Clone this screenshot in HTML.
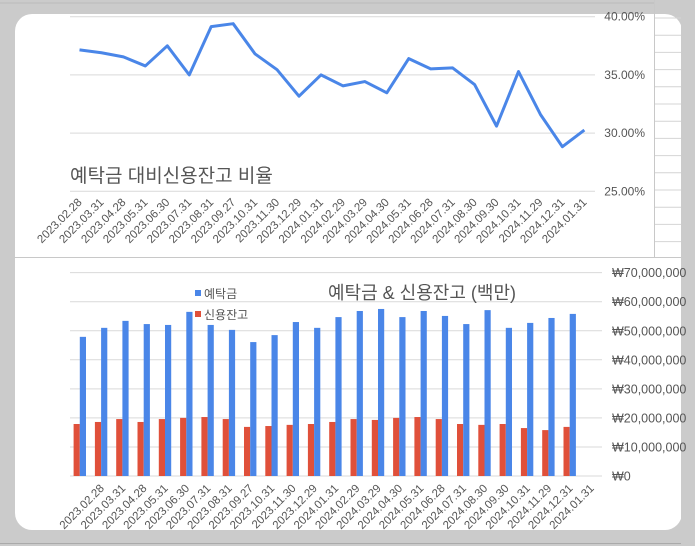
<!DOCTYPE html>
<html><head><meta charset="utf-8">
<style>
html,body{margin:0;padding:0;}
body{width:695px;height:546px;background:#cbcbcb;overflow:hidden;position:relative;font-family:"Liberation Sans","Noto Sans CJK KR",sans-serif;}
svg{position:absolute;left:0;top:0;}
text{font-family:"Liberation Sans","Noto Sans CJK KR",sans-serif;fill:#555;}
</style></head>
<body>
<svg id="svg" width="695" height="546">
  <rect x="15" y="14" width="667" height="516" rx="17" fill="#fff"/>
  <rect x="0" y="3" width="654" height="11" fill="#cbcbcb"/>
  <line x1="0" y1="3" x2="654" y2="3" stroke="#bbb"/>
  <line x1="654.5" y1="0" x2="654.5" y2="257" stroke="#c8c8c8"/>
  <line x1="14" y1="257.5" x2="683" y2="257.5" stroke="#c8c8c8"/>
  <line x1="682.5" y1="257" x2="682.5" y2="532" stroke="#bbb"/>
  <line x1="0" y1="543.5" x2="695" y2="543.5" stroke="#aaa"/>
  <g id="cells"></g>
  <g id="topchart"></g>
  <g id="botchart"></g>
</svg>
<script>
const cats=["2023.02.28","2023.03.31","2023.04.28","2023.05.31","2023.06.30","2023.07.31","2023.08.31","2023.09.27","2023.10.31","2023.11.30","2023.12.29","2024.01.31","2024.02.29","2024.03.29","2024.04.30","2024.05.31","2024.06.28","2024.07.31","2024.08.30","2024.09.30","2024.10.31","2024.11.29","2024.12.31","2024.01.31"];
const ratio=[37.15,36.9,36.55,35.77,37.5,35.0,39.15,39.4,36.8,35.45,33.17,35.0,34.06,34.43,33.46,36.4,35.52,35.6,34.17,30.6,35.29,31.6,28.83,30.26];
const ratioTicks=[25,30,35,40];
const deposit=[47.9,51.0,53.4,52.3,52.0,56.5,52.0,50.3,46.1,48.5,53.0,51.0,54.7,56.8,57.5,54.7,56.8,55.1,52.3,57.1,51.0,52.7,54.4,55.8];
const credit=[17.9,18.6,19.6,18.6,19.6,20.0,20.3,19.6,16.9,17.2,17.6,17.9,18.6,19.6,19.3,20.0,20.3,19.6,17.9,17.6,17.9,16.5,15.8,16.9];
const moneyTicks=[0,10,20,30,40,50,60,70];
const tickLabels=["₩0","₩10,000,000","₩20,000,000","₩30,000,000","₩40,000,000","₩50,000,000","₩60,000,000","₩70,000,000"];
const NS="http://www.w3.org/2000/svg";
function mk(tag,attrs,parent,txt){const e=document.createElementNS(NS,tag);for(const k in attrs)e.setAttribute(k,attrs[k]);if(txt!==undefined)e.textContent=txt;parent.appendChild(e);return e;}
const cellsG=document.getElementById('cells');
for(let y=18;y<257;y+=17.2){const l=mk('line',{x1:655,x2:681,y1:y,y2:y,stroke:'#d4d4d4'},cellsG);

}
mk('rect',{x:681,y:0,width:14,height:546,fill:'#cbcbcb'},cellsG);
const gTop=document.getElementById('topchart');
const tx=i=>79.5+i*21.95;
const ty=v=>16.7+(40-v)*11.64;
ratioTicks.forEach(t=>{
 const g=mk('line',{x1:70,x2:595,y1:ty(t),y2:ty(t),stroke:'#d9d9d9'},gTop);
 
 
 const l=mk('text',{x:645,y:ty(t)+4,'text-anchor':'end','font-size':12},gTop,t.toFixed(2)+'%');
 
 
});
const pl=mk('polyline',{points:ratio.map((v,i)=>tx(i)+','+ty(v)).join(' '),fill:'none',stroke:'#4a86e8','stroke-width':3,'stroke-linejoin':'round'},gTop);


cats.forEach((c,i)=>{
 const x=tx(i)+3,y=203;
 const l=mk('text',{x:x,y:y,'text-anchor':'end','font-size':11.5,transform:`rotate(-45 ${x} ${y})`},gTop,c);
 
 
});
const tt=mk('text',{x:70,y:182,'font-size':19},gTop,'예탁금 대비신용잔고 비율');


const gBot=document.getElementById('botchart');
const bx=i=>79.8+i*21.3;
const by=v=>476-v*2.905;
moneyTicks.forEach((t,k)=>{
 const g=mk('line',{x1:70,x2:602,y1:by(t),y2:by(t),stroke:'#d9d9d9'},gBot);
 
 
 const l=mk('text',{x:612,y:by(t)+4.5,'font-size':12.5},gBot,tickLabels[k]);
 
 
});
cats.forEach((c,i)=>{
 const r=mk('rect',{x:bx(i)-6.2,y:by(credit[i]),width:6.2,height:476-by(credit[i]),fill:'#e0503a'},gBot);
 
 
 const b=mk('rect',{x:bx(i),y:by(deposit[i]),width:6.2,height:476-by(deposit[i]),fill:'#4a86e8'},gBot);
 
 
 const x=bx(i)+25,y=489;
 const l=mk('text',{x:x,y:y,'text-anchor':'end','font-size':11.5,transform:`rotate(-45 ${x} ${y})`},gBot,c);
 
 
});
const lg1=mk('rect',{x:195,y:290,width:6,height:6,fill:'#4a86e8'},gBot);


const lt1=mk('text',{x:204,y:298,'font-size':12},gBot,'예탁금');


const lg2=mk('rect',{x:195,y:311,width:6,height:6,fill:'#e0503a'},gBot);


const lt2=mk('text',{x:204,y:319,'font-size':12},gBot,'신용잔고');


const bt=mk('text',{x:328,y:299,'font-size':18},gBot,'예탁금 & 신용잔고 (백만)');


</script>
</body></html>
